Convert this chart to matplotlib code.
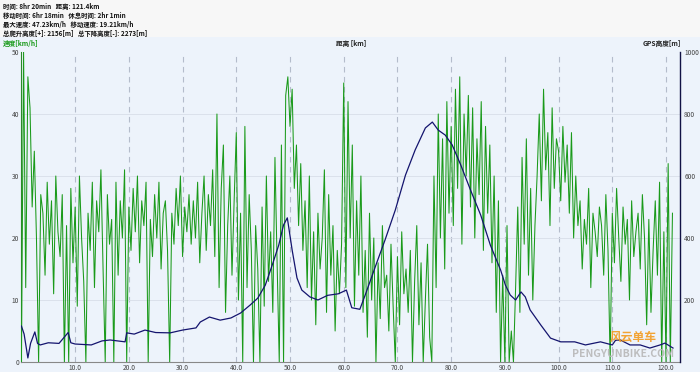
import matplotlib.pyplot as plt
import numpy as np

plt.rcParams['font.family'] = ['Noto Sans CJK SC', 'DejaVu Sans']

# speed [km/h], one reading every 0.4 km
speed = [
    0, 50, 12, 46, 41, 25, 34, 20, 0, 27,
    24, 14, 29, 19, 26, 11, 30, 21, 17, 27,
    0, 22, 0, 28, 16, 25, 9, 30, 20, 13,
    0, 24, 18, 29, 12, 26, 21, 31, 15, 0,
    27, 19, 23, 0, 29, 14, 26, 20, 31, 0,
    25, 18, 28, 21, 30, 16, 26, 22, 29, 0,
    23, 17, 27, 20, 29, 15, 24, 26, 18, 0,
    24, 19, 28, 22, 30, 17, 25, 21, 27, 19,
    26, 20, 29, 16, 24, 30, 18, 27, 22, 31,
    17, 40, 12, 28, 35, 8, 22, 30, 14, 26,
    37, 10, 24, 0, 38, 12, 27, 18, 0, 22,
    15, 0, 25, 9, 30, 13, 21, 8, 33, 16,
    0, 35, 0, 43, 46, 38, 44, 28, 35, 22,
    32, 18, 26, 12, 30, 10, 21, 6, 24, 15,
    20, 31, 8, 27, 14, 22, 5, 18, 11, 19,
    45, 12, 42, 20, 35, 9, 26, 14, 30, 8,
    18, 4, 24, 10, 20, 0, 16, 7, 22, 12,
    14, 5, 19, 9, 0, 17, 6, 21, 11, 15,
    8, 18, 0, 13, 22, 6, 16, 0, 10, 19,
    4, 0, 30, 12, 40, 20, 36, 15, 42, 24,
    38, 22, 44, 28, 46, 19, 40, 30, 43, 25,
    41, 20, 36, 27, 42, 18, 38, 24, 35, 16,
    30, 8, 26, 0, 14, 0, 22, 0, 5, 0,
    12, 25, 8, 33, 19, 36, 14, 28, 10, 22,
    30, 40, 26, 44, 31, 37, 22, 41, 28, 36,
    34, 26, 38, 29, 35, 24, 37, 20, 30, 22,
    26, 15, 23, 19, 28, 12, 24, 21, 17, 25,
    22, 14, 27, 18, 0, 24, 16, 28, 20, 13,
    25, 19, 23, 10, 26, 17, 21, 24, 15, 27,
    20, 6, 23, 8, 18, 26, 14, 29, 0, 21,
    0, 32, 0, 24,
]
speed_km = [i * 0.4 for i in range(len(speed))]

# GPS altitude [m]
alt_km = [0, 0.5, 1.2, 1.7, 2.5, 3.0, 3.5, 5, 7, 8.7, 9.2, 10, 13, 15, 16.5,
          19.3, 19.6, 21, 23, 25, 27.7, 30, 32.5, 33.3, 35, 37, 39, 40.8,
          42.6, 44, 45.4, 46.7, 47.9, 48.8, 49.5, 50.4, 51.3, 52.2, 53.7,
          55.2, 57, 59, 60.5, 61.5, 63, 64, 66, 67.7, 69.6, 71.5, 73.3,
          75.2, 76.5, 77.6, 78.9, 80.2, 81.8, 83.6, 85.5, 87.3, 89.2, 90.1,
          91, 92, 93, 93.8, 94.7, 96.7, 98.5, 100.4, 103, 105, 107.8, 110,
          110.6, 111.5, 113.3, 115.2, 117, 118.9, 119.8, 121.3]
alt = [116, 90, 13, 60, 97, 60, 55, 62, 60, 95, 62, 58, 55, 68, 71,
       65, 94, 90, 103, 95, 94, 103, 110, 129, 145, 135, 142, 158,
       184, 206, 248, 313, 377, 442, 465, 361, 271, 232, 210,
       200, 215, 220, 232, 175, 170, 216, 313, 394, 490, 603, 684,
       755, 774, 748, 732, 700, 635, 555, 474, 377, 297, 248,
       216, 200, 226, 210, 168, 119, 77, 65, 65, 55, 65, 55,
       70, 71, 55, 55, 45, 55, 61, 45]

header = [
    "时间: 8hr 20min   距离: 121.4km",
    "移动时间: 6hr 18min   休息时间: 2hr 1min",
    "最大速度: 47.23km/h   移动速度: 19.21km/h",
    "总爬升高度[+]: 2156[m]   总下降高度[-]: 2273[m]",
]

bg = '#edf3fb'
fig = plt.figure(figsize=(7, 3.72), dpi=100, facecolor=bg)
fig.patches.append(plt.Rectangle((0, 0.9), 1, 0.1, transform=fig.transFigure,
                                 facecolor='#f7f7f7', edgecolor='none', zorder=0))
for i, line in enumerate(header):
    fig.text(0.004, 0.992 - i * 0.0245, line, fontsize=4.6, fontweight='bold',
             va='top', ha='left', color='#111111')

ax = fig.add_axes([0.0306, 0.0269, 0.9408, 0.8333])
ax.set_facecolor(bg)
ax.plot(speed_km, speed, color='#1a9a1a', lw=0.75, zorder=3)
ax.set_xlim(0, 122.6)
ax.set_ylim(0, 50)
ax.set_yticks([0, 10, 20, 30, 40, 50])
ax.set_xticks(np.arange(10, 121, 10))
ax.set_xticklabels([f"{v:.1f}" for v in np.arange(10, 121, 10)])
ax.tick_params(labelsize=4.8, colors='#444444', length=0, pad=1.5)
for v in np.arange(10, 121, 10):
    ax.axvline(v, color='#b4bccb', lw=0.8, ls=(0, (5, 4)), zorder=1)
for v in [10, 20, 30, 40]:
    ax.axhline(v, color='#d8dee8', lw=0.6, zorder=1)
for s in ['top', 'right']:
    ax.spines[s].set_visible(False)
ax.spines['left'].set_color('#2a8a2a')
ax.spines['bottom'].set_color('#888888')

ax2 = ax.twinx()
ax2.plot(alt_km, alt, color='#14146e', lw=0.9, zorder=4)
ax2.set_ylim(0, 1000)
ax2.set_yticks([200, 400, 600, 800, 1000])
ax2.tick_params(labelsize=4.8, colors='#444444', length=0, pad=3)
ax2.spines['right'].set_color('#111144')
ax2.spines['right'].set_linewidth(1.0)
for s in ['top', 'left', 'bottom']:
    ax2.spines[s].set_visible(False)

fig.text(0.004, 0.884, "速度[km/h]", fontsize=4.8, fontweight='bold', color='#1a9a1a', va='center')
fig.text(0.48, 0.884, "距离 [km]", fontsize=4.8, fontweight='bold', color='#222222', va='center')
fig.text(0.918, 0.884, "GPS高度[m]", fontsize=4.8, fontweight='bold', color='#222222', va='center')

# watermark
fig.text(0.905, 0.085, "风云单车", fontsize=8.5, fontweight='bold', color='#f39a1e', ha='center', alpha=0.9)
fig.text(0.89, 0.04, "PENGYUNBIKE.COM", fontsize=7.5, fontweight='bold', color='#b8b8b8',
         ha='center', style='italic', alpha=0.9)

fig.savefig('out.png', dpi=100, facecolor=bg)
